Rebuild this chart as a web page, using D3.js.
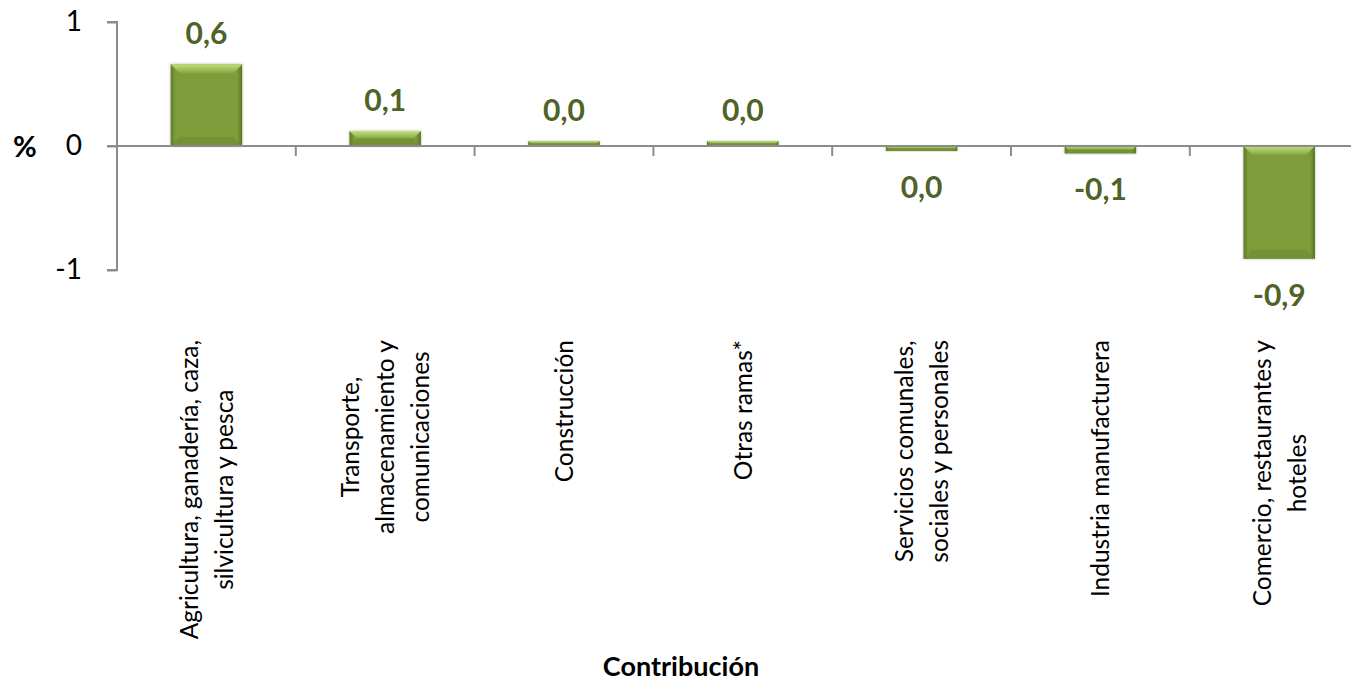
<!DOCTYPE html>
<html><head><meta charset="utf-8">
<script src="https://cdn.jsdelivr.net/npm/d3@7"></script>
<style>body{margin:0;background:#fff}svg{display:block}</style>
</head><body>
<svg id="c" width="1351" height="681"></svg>
<script>
const categories = [
  ["Agricultura, ganadería, caza,", "silvicultura y pesca"],
  ["Transporte,", "almacenamiento y", "comunicaciones"],
  ["Construcción"],
  ["Otras ramas*"],
  ["Servicios comunales,", "sociales y personales"],
  ["Industria manufacturera"],
  ["Comercio, restaurantes y", "hoteles"]
];
const values = [0.66, 0.12, 0.04, 0.04, -0.04, -0.06, -0.91];
const valueLabels = ["0,6", "0,1", "0,0", "0,0", "0,0", "-0,1", "-0,9"];
const yTicks = [-1, 0, 1];
const xTitle = "Contribución";
const yTitle = "%";

const font = "Lato, 'Open Sans', sans-serif";
const svg = d3.select("#c");
const x = d3.scaleBand().domain(d3.range(categories.length)).range([117, 117 + 7 * 178.8]).paddingInner(0.6).paddingOuter(0.3);
const y = d3.scaleLinear().domain([-1, 1]).range([270, 22]);

const defs = svg.append("defs");
const gh = defs.append("linearGradient").attr("id", "gh").attr("x1", 0).attr("x2", 1).attr("y1", 0).attr("y2", 0);
gh.append("stop").attr("offset", 0).attr("stop-color", "#5f7b27");
gh.append("stop").attr("offset", 0.07).attr("stop-color", "#7d9d3b");
gh.append("stop").attr("offset", 0.93).attr("stop-color", "#7d9d3b");
gh.append("stop").attr("offset", 1).attr("stop-color", "#5a7425");
const gt = defs.append("linearGradient").attr("id", "gt").attr("x1", 0).attr("x2", 0).attr("y1", 0).attr("y2", 1);
gt.append("stop").attr("offset", 0).attr("stop-color", "#c2e07c");
gt.append("stop").attr("offset", 1).attr("stop-color", "#86a842");
const f = defs.append("filter").attr("id", "sh").attr("x", "-20%").attr("y", "-20%").attr("width", "140%").attr("height", "140%");
f.append("feGaussianBlur").attr("in", "SourceAlpha").attr("stdDeviation", 1.5).attr("result", "b");
f.append("feFlood").attr("flood-color", "#000").attr("flood-opacity", 0.25);
f.append("feComposite").attr("in2", "b").attr("operator", "in").attr("result", "s");
const fm = f.append("feMerge"); fm.append("feMergeNode").attr("in", "s"); fm.append("feMergeNode").attr("in", "SourceGraphic");

// bars
const bars = svg.append("g").selectAll("g").data(values).join("g").attr("filter", "url(#sh)");
bars.each(function(v, i) {
  const g = d3.select(this);
  const bx = x(i), bw = x.bandwidth();
  const top = y(Math.max(0, v)), bot = y(Math.min(0, v));
  const h = bot - top;
  g.append("rect").attr("x", bx).attr("y", top).attr("width", bw).attr("height", h).attr("fill", "url(#gh)");
  const bev = Math.min(9, h / 2);
  g.append("path").attr("d", `M${bx},${top}H${bx + bw}L${bx + bw - bev},${top + bev}H${bx + bev}Z`).attr("fill", "url(#gt)");
  g.append("path").attr("d", `M${bx},${bot}H${bx + bw}L${bx + bw - bev},${bot - bev}H${bx + bev}Z`).attr("fill", "#6a872f").attr("opacity", 0.5);
});

// y axis
const ya = svg.append("g").attr("transform", "translate(117,0)")
  .call(d3.axisLeft(y).tickValues(yTicks).tickSize(10).tickPadding(25).tickFormat(d3.format("d")));
ya.select(".domain").attr("stroke", "#8c8c8c").attr("stroke-width", 2).attr("d", `M-10,${y(1)}H0V${y(-1)}H-10`);
ya.selectAll(".tick line").attr("stroke", "#8c8c8c").attr("stroke-width", 2);
ya.selectAll(".tick text").attr("font-family", font).attr("font-size", 28).attr("fill", "#000").text(d => d < 0 ? "-" + Math.abs(d) : d);

// x axis at zero
const xa = svg.append("g").attr("transform", `translate(0,${y(0)})`);
xa.append("line").attr("x1", 107).attr("x2", 1351).attr("stroke", "#8c8c8c").attr("stroke-width", 2);
const bounds = d3.range(1, categories.length).map(i => x(i) - x.step() * x.paddingInner() / 2);
xa.selectAll(".tk").data(bounds).join("line").attr("x1", d => d).attr("x2", d => d).attr("y1", 0).attr("y2", 10).attr("stroke", "#8c8c8c").attr("stroke-width", 2);

// value labels
svg.append("g").selectAll("text").data(values).join("text")
  .attr("x", (d, i) => x(i) + x.bandwidth() / 2)
  .attr("y", d => d >= 0 ? y(d) - 20 : y(d) + 47)
  .attr("text-anchor", "middle").attr("font-family", font).attr("font-weight", "bold").attr("font-size", 30).attr("fill", "#4f6228")
  .text((d, i) => valueLabels[i]);

// category labels (rotated)
const lineH = 35;
categories.forEach((lines, i) => {
  const cx = x(i) + x.bandwidth() / 2;
  const g = svg.append("g");
  const n = lines.length;
  const ts = lines.map((t, k) => g.append("text").attr("font-family", font).attr("font-size", 24.5).attr("fill", "#000").attr("text-anchor", "middle").text(t));
  const maxLen = d3.max(ts, t => t.node().getComputedTextLength());
  const cy = 340 + maxLen / 2;
  ts.forEach((t, k) => {
    const lx = cx + (k - (n - 1) / 2) * lineH + 9;
    t.attr("transform", `translate(${lx},${cy}) rotate(-90)`);
  });
});

svg.append("text").attr("x", 25).attr("y", 157).attr("text-anchor", "middle").attr("font-family", font).attr("font-weight", "bold").attr("font-size", 29).text(yTitle);
svg.append("text").attr("x", 681).attr("y", 676).attr("text-anchor", "middle").attr("font-family", font).attr("font-weight", "bold").attr("font-size", 27).text(xTitle);
</script>
</body></html>
